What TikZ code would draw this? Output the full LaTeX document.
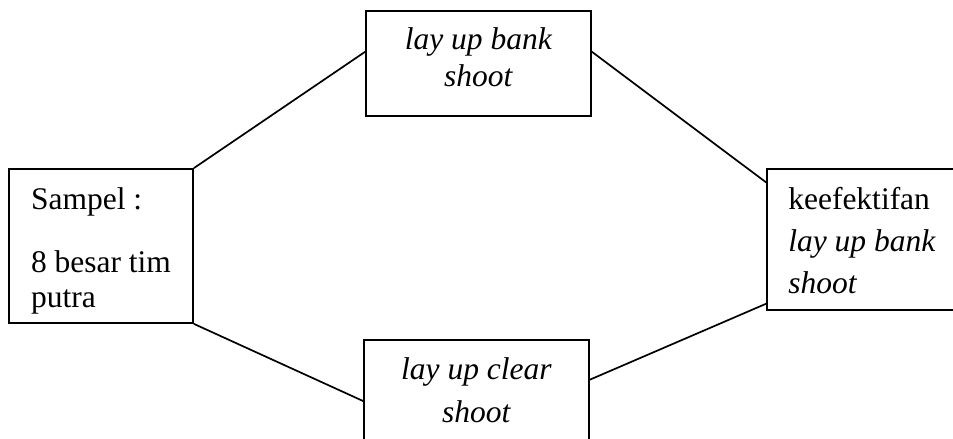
\documentclass[tikz,border=0pt]{standalone}
\usepackage{fontspec}
\setmainfont{Liberation Serif}
\usetikzlibrary{positioning, calc}

\begin{document}
\begin{tikzpicture}[x=1pt, y=-1pt, line width=1.7pt,
    box/.style={draw, rectangle, inner sep=0pt, text depth=4pt},
    big/.style={font=\fontsize{31.5}{37}\selectfont}]
    \useasboundingbox (0,0) rectangle (953,439);
    \clip (0,0) rectangle (953,439);
    \node[box, big, align=left, text height=126pt, minimum width=184pt, minimum height=154pt] (sampel) at (101,246)
        {Sampel :\\[26pt]8 besar tim\\[-2pt]putra};
    \node[box, big, align=center, text height=50pt, minimum width=225pt, minimum height=105pt] (bank) at (478.5,63.5)
        {\textit{lay up bank}\\\textit{shoot}};
    \node[box, big, align=center, text height=63pt, minimum width=225pt, minimum height=105pt] (clear) at (476.5,392.5)
        {\textit{lay up clear}\\[6pt]\textit{shoot}};
    \node[box, big, align=left, text height=111pt, minimum width=190pt, minimum height=141pt] (efektif) at (862,239.5)
        {keefektifan\\[5pt]\textit{lay up bank}\\[5pt]\textit{shoot}};
    \path
    (sampel.north east) edge ($(bank.north west)!0.39!(bank.south west)$)
    ($(bank.north east)!0.39!(bank.south east)$) edge ($(efektif.north west)!0.1!(efektif.south west)$)
    (sampel.south east) edge ($(clear.north west)!0.58!(clear.south west)$)
    ($(clear.north east)!0.38!(clear.south east)$) edge ($(efektif.north west)!0.95!(efektif.south west)$)
    ;
\end{tikzpicture}
\end{document}
